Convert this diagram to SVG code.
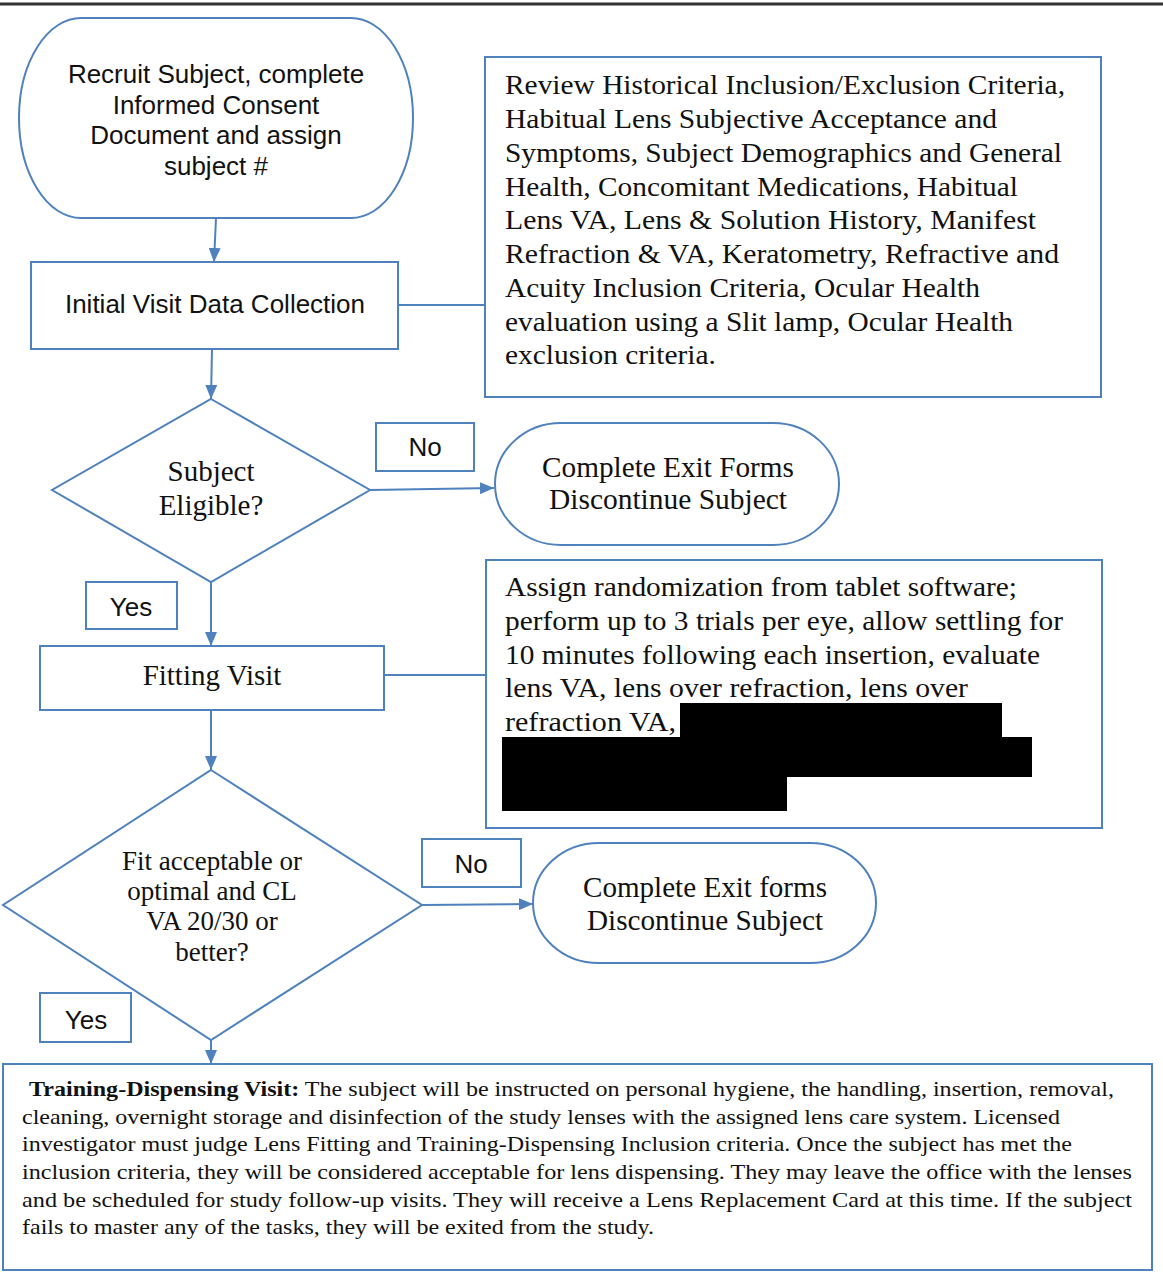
<svg xmlns="http://www.w3.org/2000/svg" width="1163" height="1280" viewBox="0 0 1163 1280">
<style>
.shape{fill:#fff;stroke:#4f81bd;stroke-width:2}
.conn{fill:none;stroke:#4f81bd;stroke-width:2}
.sans{font-family:"Liberation Sans",Arial,sans-serif;fill:#111;font-size:26px}
.serif{font-family:"Liberation Serif","Times New Roman",serif;fill:#111}
.b{font-size:28px}
.bt{font-size:21px}
.redact{fill:#000}
</style>
<defs>
<marker id="arr" viewBox="0 0 14 12" refX="14" refY="6" markerWidth="14" markerHeight="12" markerUnits="userSpaceOnUse" orient="auto">
<path d="M0,0 L14,6 L0,12 z" fill="#4f81bd"/>
</marker>
</defs>
<rect width="1163" height="1280" fill="#fff"/>
<line x1="0" y1="4" x2="1163" y2="4" stroke="#333" stroke-width="3"/>

<g id="connectors">
<line class="conn" x1="216" y1="218" x2="214" y2="262" marker-end="url(#arr)"/>
<line class="conn" x1="398" y1="305" x2="485" y2="305"/>
<line class="conn" x1="212" y1="349" x2="211" y2="399" marker-end="url(#arr)"/>
<line class="conn" x1="370" y1="490" x2="494" y2="488" marker-end="url(#arr)"/>
<line class="conn" x1="211" y1="582" x2="211" y2="646" marker-end="url(#arr)"/>
<line class="conn" x1="384" y1="675" x2="486" y2="675"/>
<line class="conn" x1="211" y1="710" x2="211" y2="770" marker-end="url(#arr)"/>
<line class="conn" x1="422" y1="905" x2="533" y2="904" marker-end="url(#arr)"/>
<line class="conn" x1="211" y1="1040" x2="211" y2="1064" marker-end="url(#arr)"/>
</g>

<g id="recruit">
<rect class="shape" x="19" y="18" width="394" height="200" rx="62" ry="100"/>
<text class="sans" text-anchor="middle" x="216" y="83">Recruit Subject, complete</text>
<text class="sans" text-anchor="middle" x="216" y="114">Informed Consent</text>
<text class="sans" text-anchor="middle" x="216" y="144">Document and assign</text>
<text class="sans" text-anchor="middle" x="216" y="175">subject #</text>
</g>

<g id="initial-visit">
<rect class="shape" x="31" y="262" width="367" height="87"/>
<text class="sans" text-anchor="middle" x="215" y="313">Initial Visit Data Collection</text>
</g>

<g id="review-box">
<rect class="shape" x="485" y="57" width="616" height="340"/>
<text class="serif b" x="505" y="94" textLength="560" lengthAdjust="spacingAndGlyphs">Review Historical Inclusion/Exclusion Criteria,</text>
<text class="serif b" x="505" y="128" textLength="492" lengthAdjust="spacingAndGlyphs">Habitual Lens Subjective Acceptance and</text>
<text class="serif b" x="505" y="162" textLength="557" lengthAdjust="spacingAndGlyphs">Symptoms, Subject Demographics and General</text>
<text class="serif b" x="505" y="196" textLength="513" lengthAdjust="spacingAndGlyphs">Health, Concomitant Medications, Habitual</text>
<text class="serif b" x="505" y="229" textLength="531" lengthAdjust="spacingAndGlyphs">Lens VA, Lens &amp; Solution History, Manifest</text>
<text class="serif b" x="505" y="263" textLength="554" lengthAdjust="spacingAndGlyphs">Refraction &amp; VA, Keratometry, Refractive and</text>
<text class="serif b" x="505" y="297" textLength="475" lengthAdjust="spacingAndGlyphs">Acuity Inclusion Criteria, Ocular Health</text>
<text class="serif b" x="505" y="331" textLength="508" lengthAdjust="spacingAndGlyphs">evaluation using a Slit lamp, Ocular Health</text>
<text class="serif b" x="505" y="364" textLength="211" lengthAdjust="spacingAndGlyphs">exclusion criteria.</text>
</g>

<g id="eligible">
<polygon class="shape" points="211,399 370,490 211,582 52,490"/>
<text class="serif" font-size="29" text-anchor="middle" x="211" y="481">Subject</text>
<text class="serif" font-size="29" text-anchor="middle" x="211" y="515">Eligible?</text>
</g>

<g id="no-label-1">
<rect class="shape" x="376" y="423" width="98" height="48"/>
<text class="sans" text-anchor="middle" x="425" y="456">No</text>
</g>

<g id="exit-1">
<rect class="shape" x="495" y="423" width="344" height="122" rx="66" ry="61"/>
<text class="serif" font-size="29" x="542" y="477" textLength="252" lengthAdjust="spacingAndGlyphs">Complete Exit Forms</text>
<text class="serif" font-size="29" x="549" y="509" textLength="238" lengthAdjust="spacingAndGlyphs">Discontinue Subject</text>
</g>

<g id="yes-label-1">
<rect class="shape" x="86" y="582" width="91" height="47"/>
<text class="sans" text-anchor="middle" x="131" y="616">Yes</text>
</g>

<g id="fitting-visit">
<rect class="shape" x="40" y="646" width="344" height="64"/>
<text class="serif" font-size="29" text-anchor="middle" x="212" y="685">Fitting Visit</text>
</g>

<g id="fitting-box">
<rect class="shape" x="486" y="560" width="616" height="268"/>
<text class="serif b" x="505" y="596" textLength="512" lengthAdjust="spacingAndGlyphs">Assign randomization from tablet software;</text>
<text class="serif b" x="505" y="630" textLength="558" lengthAdjust="spacingAndGlyphs">perform up to 3 trials per eye, allow settling for</text>
<text class="serif b" x="505" y="664" textLength="535" lengthAdjust="spacingAndGlyphs">10 minutes following each insertion, evaluate</text>
<text class="serif b" x="505" y="697" textLength="463" lengthAdjust="spacingAndGlyphs">lens VA, lens over refraction, lens over</text>
<text class="serif b" x="505" y="731" textLength="171" lengthAdjust="spacingAndGlyphs">refraction VA,</text>
<rect class="redact" x="680" y="703" width="322" height="35"/>
<rect class="redact" x="502" y="737" width="530" height="40"/>
<rect class="redact" x="502" y="776" width="285" height="35"/>
</g>

<g id="fit-acceptable">
<polygon class="shape" points="211,770 422,905 211,1040 3,905"/>
<text class="serif" font-size="27" text-anchor="middle" x="212" y="870">Fit acceptable or</text>
<text class="serif" font-size="27" text-anchor="middle" x="212" y="900">optimal and CL</text>
<text class="serif" font-size="27" text-anchor="middle" x="212" y="930">VA 20/30 or</text>
<text class="serif" font-size="27" text-anchor="middle" x="212" y="961">better?</text>
</g>

<g id="no-label-2">
<rect class="shape" x="422" y="839" width="99" height="48"/>
<text class="sans" text-anchor="middle" x="471" y="873">No</text>
</g>

<g id="exit-2">
<rect class="shape" x="533" y="843" width="343" height="120" rx="66" ry="60"/>
<text class="serif" font-size="29" x="583" y="897" textLength="244" lengthAdjust="spacingAndGlyphs">Complete Exit forms</text>
<text class="serif" font-size="29" x="587" y="930" textLength="236" lengthAdjust="spacingAndGlyphs">Discontinue Subject</text>
</g>

<g id="yes-label-2">
<rect class="shape" x="40" y="993" width="91" height="49"/>
<text class="sans" text-anchor="middle" x="86" y="1029">Yes</text>
</g>

<g id="training-dispensing">
<rect class="shape" x="3" y="1064" width="1149" height="206"/>
<text class="serif bt" x="29" y="1096" textLength="1085" lengthAdjust="spacingAndGlyphs"><tspan font-weight="bold">Training-Dispensing Visit:</tspan> The subject will be instructed on personal hygiene, the handling, insertion, removal,</text>
<text class="serif bt" x="22" y="1124" textLength="1038" lengthAdjust="spacingAndGlyphs">cleaning, overnight storage and disinfection of the study lenses with the assigned lens care system. Licensed</text>
<text class="serif bt" x="22" y="1151" textLength="1050" lengthAdjust="spacingAndGlyphs">investigator must judge Lens Fitting and Training-Dispensing Inclusion criteria. Once the subject has met the</text>
<text class="serif bt" x="22" y="1179" textLength="1110" lengthAdjust="spacingAndGlyphs">inclusion criteria, they will be considered acceptable for lens dispensing.  They may leave the office with the lenses</text>
<text class="serif bt" x="22" y="1207" textLength="1110" lengthAdjust="spacingAndGlyphs">and be scheduled for study follow-up visits. They will receive a Lens Replacement Card at this time.   If the subject</text>
<text class="serif bt" x="22" y="1234" textLength="632" lengthAdjust="spacingAndGlyphs">fails to master any of the tasks, they will be exited from the study.</text>
</g>
</svg>
